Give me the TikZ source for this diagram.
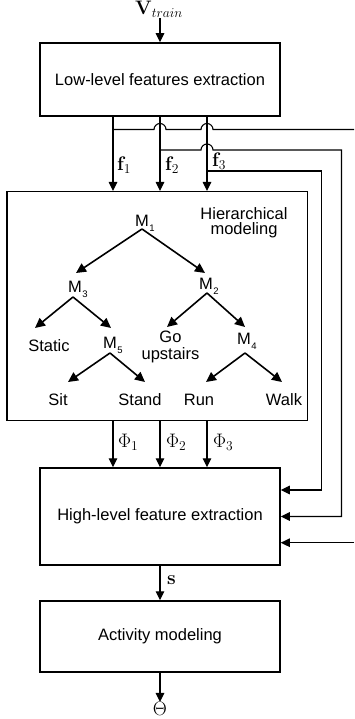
\documentclass[tikz,border=0pt]{standalone}
\usepackage[no-math]{fontspec}
\setmainfont{Liberation Sans}
\usetikzlibrary{arrows.meta,calc}

% small lowered index after an "M"
\newcommand{\msub}[1]{\rlap{\hspace{0.6pt}\raisebox{-5pt}{\fontsize{9.5}{9.5}\selectfont #1}}}
% enlarged math label
\newcommand{\mth}[1]{\scalebox{1.13}{$#1$}}

\begin{document}
\begin{tikzpicture}[x=1pt,y=-1pt,
  every node/.style={inner sep=0pt, font=\fontsize{16.5}{15}\selectfont},
  stagebox/.style={draw, line width=1.5pt, minimum width=240pt},
  conn/.style={line width=1.1pt, -{Triangle[length=9pt,width=8.5pt]}},
  wire/.style={line width=1.1pt},
  treearrow/.style={line width=1.6pt, -{Triangle[length=10pt,width=9.5pt]}},
  mlabel/.style={font=\fontsize{17.28}{17}\selectfont},
  tlabel/.style={anchor=base}
]
\useasboundingbox (0,0) rectangle (354,719);

% processing stages
\node[stagebox, minimum height=73pt] (low) at (160,79.5) {Low-level features extraction};
\node[draw, line width=1.5pt, minimum width=300.5pt, minimum height=229pt] (hier) at (157,306.2) {};
\node[stagebox, minimum height=97pt] (high) at (160,516.5) {High-level feature extraction};
\node[stagebox, minimum height=71pt] (act) at (160,636.5) {Activity modeling};

% input
\node[mlabel, anchor=base west] (vt) at (135,15) {\mth{\mathbf{V}_{train}}};
\draw[conn] (vt.south -| low.north) -- (low.north);

% feature channels
\coordinate (c1) at (113,0);
\coordinate (c2) at (160,0);
\coordinate (c3) at (207,0);
\draw[conn] (c1 |- low.south) -- (c1 |- hier.north);
\draw[conn] (c2 |- low.south) -- (c2 |- hier.north);
\draw[conn] (c3 |- low.south) -- (c3 |- hier.north);
\node[mlabel, anchor=base west] (f1) at (117,171) {\mth{\mathbf{f}_1}};
\node[mlabel, anchor=base west] (f2) at (165,171) {\mth{\mathbf{f}_2}};
\node[mlabel, anchor=base west] (f3) at (212,167) {\mth{\mathbf{f}_3}};

% bypass wires with line jumps
\coordinate (w1s) at (113,129.5);
\coordinate (w1e) at (354,129.5);
\coordinate (w2s) at (160,150);
\coordinate (w2c) at (341.5,150);
\coordinate (w3s) at (207,171);
\coordinate (w3c) at (321.5,171);
\coordinate (w4s) at (354,542.7);
\draw[wire] (w1s) -- ++(41,0) arc[start angle=180,end angle=360,radius=6]
  -- ++(35,0) arc[start angle=180,end angle=360,radius=6] -- (w1e);
\draw[conn] (w2s) -- ++(41,0) arc[start angle=180,end angle=360,radius=6]
  -- (w2c) |- (high.east);
\draw[conn] (w3s) -- (w3c) |- ($(high.east)+(0,-26.5)$);
\draw[conn] (w4s) -- ($(high.east)+(0,26.2)$);

% hierarchy outputs
\draw[conn] (c1 |- hier.south) -- (c1 |- high.north);
\draw[conn] (c2 |- hier.south) -- (c2 |- high.north);
\draw[conn] (c3 |- hier.south) -- (c3 |- high.north);
\node[mlabel, anchor=base west] (p1) at (118,447.5) {\mth{\Phi_1}};
\node[mlabel, anchor=base west] (p2) at (166,447.5) {\mth{\Phi_2}};
\node[mlabel, anchor=base west] (p3) at (213,447.5) {\mth{\Phi_3}};

% final stages
\draw[conn] (high.south) -- (act.north);
\node[mlabel, anchor=base west] (s) at (167,584) {\mth{\mathbf{s}}};
\node[mlabel, anchor=base] (th) at (160,715.5) {\mth{\Theta}};
\draw[conn] (act.south) -- (th.north);

% hierarchical model tree
\node[align=center, anchor=north, font=\fontsize{16.5}{15}\selectfont] (hl) at (244,207) {Hierarchical\\modeling};
\node[tlabel] (m1) at (142,226) {M\msub{1}};
\node[tlabel] (m3) at (75,292.7) {M\msub{3}};
\node[tlabel] (m2) at (206,289.3) {M\msub{2}};
\node[tlabel] (static) at (49,351.5) {Static};
\node[tlabel] (m5) at (110,348.3) {M\msub{5}};
\node[align=center, anchor=north, font=\fontsize{16.5}{17}\selectfont] (go) at (170.5,331) {Go\\upstairs};
\node[tlabel] (m4) at (244,344) {M\msub{4}};
\node[tlabel] (sit) at (58,405) {Sit};
\node[tlabel] (stand) at (140,405) {Stand};
\node[tlabel] (run) at (199,405) {Run};
\node[tlabel] (walk) at (284,405) {Walk};

\draw[treearrow] ($(m1.base)+(0,3)$) -- ($(m3.base)+(1,-19.7)$);
\draw[treearrow] ($(m1.base)+(0,3)$) -- ($(m2.base)+(-1,-16.3)$);
\draw[treearrow] ($(m3.base)+(-2,4.3)$) -- ($(static.base)+(-14,-23.5)$);
\draw[treearrow] ($(m3.base)+(-2,4.3)$) -- ($(m5.base)+(1,-20.3)$);
\draw[treearrow] ($(m2.base)+(1,3.7)$) -- ($(go.north)+(-3.5,-4)$);
\draw[treearrow] ($(m2.base)+(1,3.7)$) -- ($(m4.base)+(1,-17)$);
\draw[treearrow] ($(m5.base)+(0,4.7)$) -- ($(sit.base)+(10,-23)$);
\draw[treearrow] ($(m5.base)+(0,4.7)$) -- ($(stand.base)+(5,-23)$);
\draw[treearrow] ($(m4.base)+(1,9)$) -- ($(run.base)+(7,-23)$);
\draw[treearrow] ($(m4.base)+(1,9)$) -- ($(walk.base)+(-2,-23)$);
\end{tikzpicture}
\end{document}
